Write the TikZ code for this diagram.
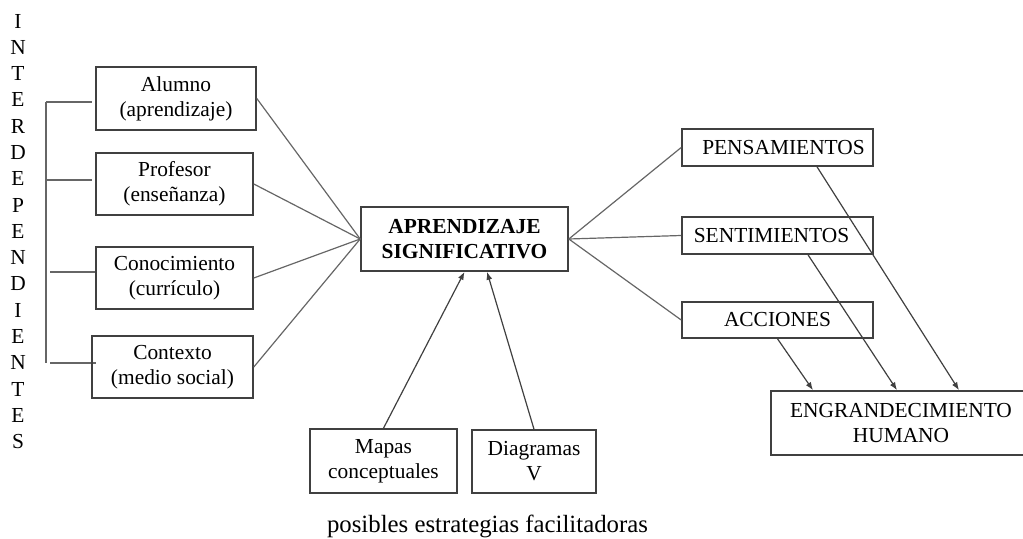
\documentclass[tikz,border=0pt]{standalone}
\usepackage{fontspec}
\setmainfont{Liberation Serif}
\usetikzlibrary{arrows.meta}

\begin{document}
\begin{tikzpicture}[x=0.5pt, y=-0.5pt,
    caja/.style={draw=black!75, line width=0.8pt, inner sep=0pt, align=center,
      font=\fontsize{10.7}{12.5}\selectfont},
    enlace/.style={draw=black!60, line width=0.6pt},
    flecha/.style={draw=black!75, line width=0.6pt, -{Latex[length=4pt, width=3pt]}},
    letra/.style={inner sep=0pt, font=\fontsize{10.7}{12.5}\selectfont}]
    \useasboundingbox (0,0) rectangle (1023,539);
    % columna vertical
    \foreach \c [count=\i] in {I,N,T,E,R,D,E,P,E,N,D,I,E,N,T,E,S}
      \node[letra] (l\i) at (18, {21+(\i-1)*26.3}) {\c};
    \draw[enlace] (46,102)--(46,363);
    \draw[enlace] (46,102)--(92,102);
    \draw[enlace] (46,180)--(92,180);
    \draw[enlace] (50,272)--(96,272);
    \draw[enlace] (50,363)--(96,363);
    % cajas de la izquierda
    \node[caja, minimum width=80pt, minimum height=31.5pt] (alumno) at (176,98.5) {Alumno\\(aprendizaje)};
    \node[caja, minimum width=78.5pt, minimum height=31pt] (profesor) at (174.5,184) {Profesor\\(enseñanza)};
    \node[caja, minimum width=78.5pt, minimum height=31pt] (conocimiento) at (174.5,278) {Conocimiento\\(currículo)};
    \node[caja, minimum width=80.5pt, minimum height=31pt] (contexto) at (172.5,367) {Contexto\\(medio social)};
    % centro
    \node[caja, minimum width=103.5pt, minimum height=32pt, font=\fontsize{10.7}{12.5}\selectfont\bfseries] (central) at (464.5,239) {APRENDIZAJE\\SIGNIFICATIVO};
    % derecha
    \node[caja, minimum width=95.5pt, minimum height=18.5pt] (pensamientos) at (777.5,147.5) {\hspace*{6pt}PENSAMIENTOS};
    \node[caja, minimum width=95.5pt, minimum height=18.5pt] (sentimientos) at (777.5,235.5) {SENTIMIENTOS\hspace*{6pt}};
    \node[caja, minimum width=95.5pt, minimum height=18pt] (acciones) at (777.5,320) {ACCIONES};
    \node[caja, minimum width=130pt, minimum height=32pt] (humano) at (901,423) {ENGRANDECIMIENTO\\HUMANO};
    % abajo
    \node[caja, minimum width=73.5pt, minimum height=32pt] (mapas) at (383.5,461) {Mapas\\conceptuales};
    \node[caja, minimum width=62pt, minimum height=31.5pt] (diagramas) at (534,461.5) {Diagramas\\V};
    \node[letra, font=\fontsize{12.4}{14}\selectfont] (estrategias) at (487.5,526) {posibles estrategias facilitadoras};
    % enlaces
    \foreach \n in {alumno,profesor,conocimiento,contexto}
      \draw[enlace] (\n.east)--(central.west);
    \foreach \n in {pensamientos,sentimientos,acciones}
      \draw[enlace] (central.east)--(\n.west);
    \draw[flecha] (mapas.north)--(central.south);
    \draw[flecha] (diagramas.north)--([xshift=11.25pt]central.south);
    \draw[flecha] ([xshift=19.75pt]pensamientos.south)--([xshift=29pt]humano.north);
    \draw[flecha] ([xshift=15.25pt]sentimientos.south)--([xshift=-2pt]humano.north);
    \draw[flecha] (acciones.south)--([xshift=-44pt]humano.north);
\end{tikzpicture}
\end{document}
